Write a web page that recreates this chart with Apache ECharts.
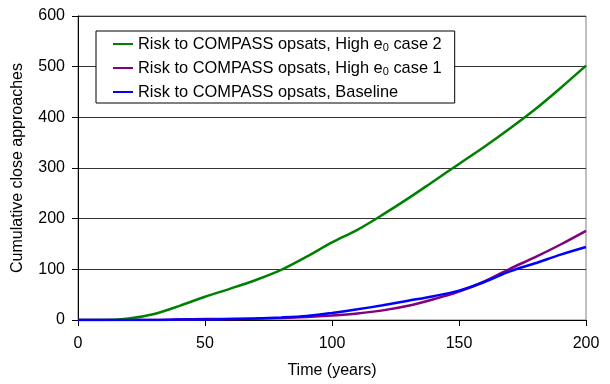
<!DOCTYPE html>
<html>
<head>
<meta charset="utf-8">
<script src="https://cdn.jsdelivr.net/npm/echarts@6/dist/echarts.min.js"></script>
<style>html,body{margin:0;padding:0;background:#fff}#c{width:610px;height:384px}</style>
</head>
<body>
<div id="c"></div>
<script>
const years = [0,10,20,30,40,50,60,70,80,90,100,110,120,130,140,150,160,170,180,190,200];
const case2 = [0,0,3,12,28,46,62,79,99,125,153,178,208,240,274,308,342,378,416,458,502];
const case1 = [0,0,0,0,1,2,2,3,4,6,9,13,19,28,41,56,76,101,124,149,176];
const baseline = [0,0,0,0,1,1,2,3,5,8,14,21,29,38,47,58,75,96,112,129,144];
const seriesNames = [
  'Risk to COMPASS opsats, High e0 case 2',
  'Risk to COMPASS opsats, High e0 case 1',
  'Risk to COMPASS opsats, Baseline'
];
const xTicks = [0,50,100,150,200];
const yTicks = [0,100,200,300,400,500,600];

const pair = arr => years.map((t,i)=>[t,arr[i]]);
const font = 'Liberation Sans, Arial, sans-serif';
const chart = echarts.init(document.getElementById('c'), null, {renderer:'canvas'});
chart.setOption({
  animation:false,
  backgroundColor:'#fff',
  grid:{left:78,right:24,top:16,bottom:62,show:true,borderColor:'#808080',borderWidth:1},
  xAxis:{type:'value',min:xTicks[0],max:xTicks[xTicks.length-1],interval:50,
    name:'Time (years)',nameLocation:'middle',nameGap:43,
    nameTextStyle:{fontFamily:font,fontSize:16,color:'#000'},
    axisLine:{lineStyle:{color:'#000',width:1}},
    axisTick:{show:true,inside:false,length:6,lineStyle:{color:'#000'}},
    axisLabel:{fontFamily:font,fontSize:16,color:'#000',margin:16},
    splitLine:{show:false}},
  yAxis:{type:'value',min:yTicks[0],max:yTicks[yTicks.length-1],interval:100,
    name:'Cumulative close approaches',nameLocation:'middle',nameGap:52,
    nameTextStyle:{fontFamily:font,fontSize:16,color:'#000'},
    axisLine:{show:true,lineStyle:{color:'#000',width:1}},
    axisTick:{show:true,length:6,lineStyle:{color:'#000'}},
    axisLabel:{fontFamily:font,fontSize:16,color:'#000',margin:13},
    splitLine:{show:true,lineStyle:{color:'#333',width:1}}},
  legend:{orient:'vertical',left:96,top:31,itemWidth:20,itemHeight:14,itemGap:7,
    padding:[5,13,3,17],borderColor:'#000',borderWidth:1,backgroundColor:'#fff',
    icon:'path://M0,6 L20,6 L20,8 L0,8 Z',
    data:seriesNames,
    formatter:function(n){
      if(n.indexOf('e0')>=0){const p=n.split('e0');return '{a|'+p[0]+'e}{s|0}{a|'+p[1]+'}';}
      return '{a|'+n+'}';
    },
    textStyle:{fontFamily:font,fontSize:16.4,color:'#000',
      rich:{a:{fontFamily:font,fontSize:16.4,lineHeight:18,color:'#000'},
            s:{fontFamily:font,fontSize:11,lineHeight:11,verticalAlign:'bottom',color:'#000'}}}},
  series:[
    {name:seriesNames[2],type:'line',data:pair(baseline),showSymbol:false,smooth:0.3,lineStyle:{color:'#0000ff',width:2.5},itemStyle:{color:'#0000ff'},z:3},
    {name:seriesNames[1],type:'line',data:pair(case1),showSymbol:false,smooth:0.3,lineStyle:{color:'#800080',width:2.5},itemStyle:{color:'#800080'},z:2},
    {name:seriesNames[0],type:'line',data:pair(case2),showSymbol:false,smooth:0.3,lineStyle:{color:'#008000',width:2.5},itemStyle:{color:'#008000'},z:2}
  ]
});
</script>
</body>
</html>
